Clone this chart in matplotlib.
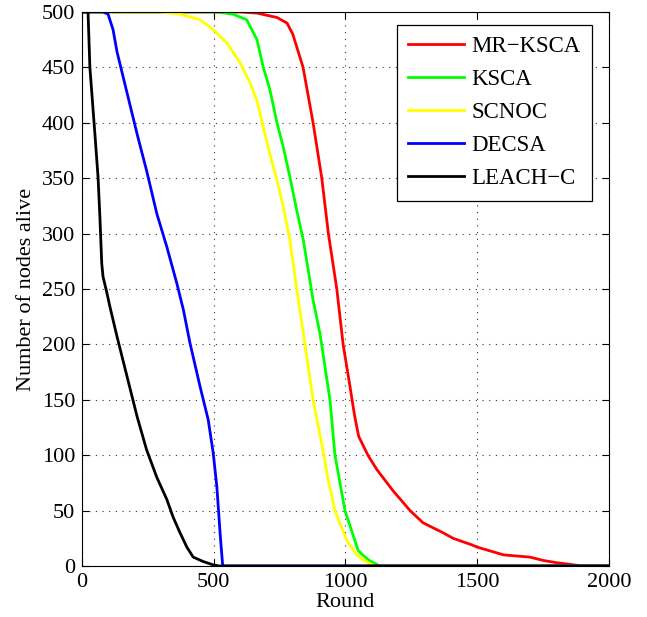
import matplotlib
matplotlib.use('Agg')
import matplotlib.pyplot as plt

plt.rcParams['font.family'] = ['Liberation Serif', 'DejaVu Serif']

# data (round, nodes alive)
mr_x = [0, 600, 664, 740, 778, 800, 839, 877, 910, 935, 967, 991, 1015, 1035, 1050, 1085, 1119,
        1180, 1245, 1294, 1370, 1408, 1480, 1500, 1600, 1700, 1750, 1800, 1900, 2000]
mr_y = [500, 500, 499, 495, 490, 480, 450, 400, 350, 300, 250, 200, 165, 135, 117, 100, 87,
        68, 50, 39, 30, 25, 19, 17, 10, 8, 5, 3, 0, 0]

ksca_x = [0, 512, 573, 625, 664, 688, 713, 740, 764, 789, 815, 840, 877, 903, 941, 960,
          998, 1048, 1065, 1090, 1130, 2000]
ksca_y = [500, 500, 498, 493, 475, 450, 430, 400, 378, 351, 321, 294, 240, 210, 150, 100,
          50, 14, 10, 5, 0, 0]

scnoc_x = [0, 296, 372, 448, 498, 550, 600, 638, 664, 688, 713, 740, 764, 789, 815, 846,
           877, 900, 918, 934, 960, 1005, 1043, 1070, 1110, 2000]
scnoc_y = [500, 500, 498, 493, 484, 472, 454, 436, 420, 396, 372, 348, 324, 294, 250, 200,
           150, 122, 100, 78, 50, 23, 10, 5, 0, 0]

decsa_x = [0, 80, 99, 118, 133, 171, 209, 245, 284, 322, 360, 385, 410, 448, 479, 498,
           512, 524, 534, 2000]
decsa_y = [500, 500, 498, 484, 464, 427, 390, 357, 318, 288, 255, 231, 201, 162, 132, 102,
           71, 30, 0, 0]

leach_x = [0, 23, 30, 49, 61, 68, 75, 80, 95, 106, 133, 171, 209, 245, 284, 322, 346,
           372, 398, 422, 460, 498, 520, 2000]
leach_y = [500, 500, 450, 390, 351, 315, 273, 261, 246, 234, 207, 171, 135, 105, 80, 60, 44,
           30, 17, 8, 4, 1, 0, 0]

fig = plt.figure(figsize=(6.47, 6.17), dpi=100)
ax = fig.add_axes([0.1267, 0.0827, 0.8146, 0.8979])

ax.plot(mr_x, mr_y, color='#ff0000', lw=2, label='MR\u2212KSCA')
ax.plot(ksca_x, ksca_y, color='#00ff00', lw=2, label='KSCA')
ax.plot(scnoc_x, scnoc_y, color='#ffff00', lw=2, label='SCNOC')
ax.plot(decsa_x, decsa_y, color='#0000ff', lw=2, label='DECSA')
ax.plot(leach_x, leach_y, color='#000000', lw=2, label='LEACH\u2212C')

ax.set_xlim(0, 2000)
ax.set_ylim(0, 500)
ax.set_xticks([0, 500, 1000, 1500, 2000])
ax.set_yticks(range(0, 501, 50))
ax.tick_params(direction='in', top=True, right=True, labelsize=16, length=5, pad=5)
ax.grid(True, linestyle=(0, (1, 5)), color='#333333', linewidth=0.8)
ax.set_axisbelow(True)
ax.set_xlabel('Round', fontsize=16, labelpad=1)
ax.set_ylabel('Number of nodes alive', fontsize=16, labelpad=4)

leg = ax.legend(loc='upper right', bbox_to_anchor=(0.9677, 0.9765), borderaxespad=0,
                fontsize=16.5, fancybox=False, edgecolor='black', framealpha=1,
                handlelength=2.45, handletextpad=0.3, labelspacing=0.52, borderpad=0.5)
leg.get_frame().set_linewidth(0.9)

fig.savefig('out.png', dpi=100)
